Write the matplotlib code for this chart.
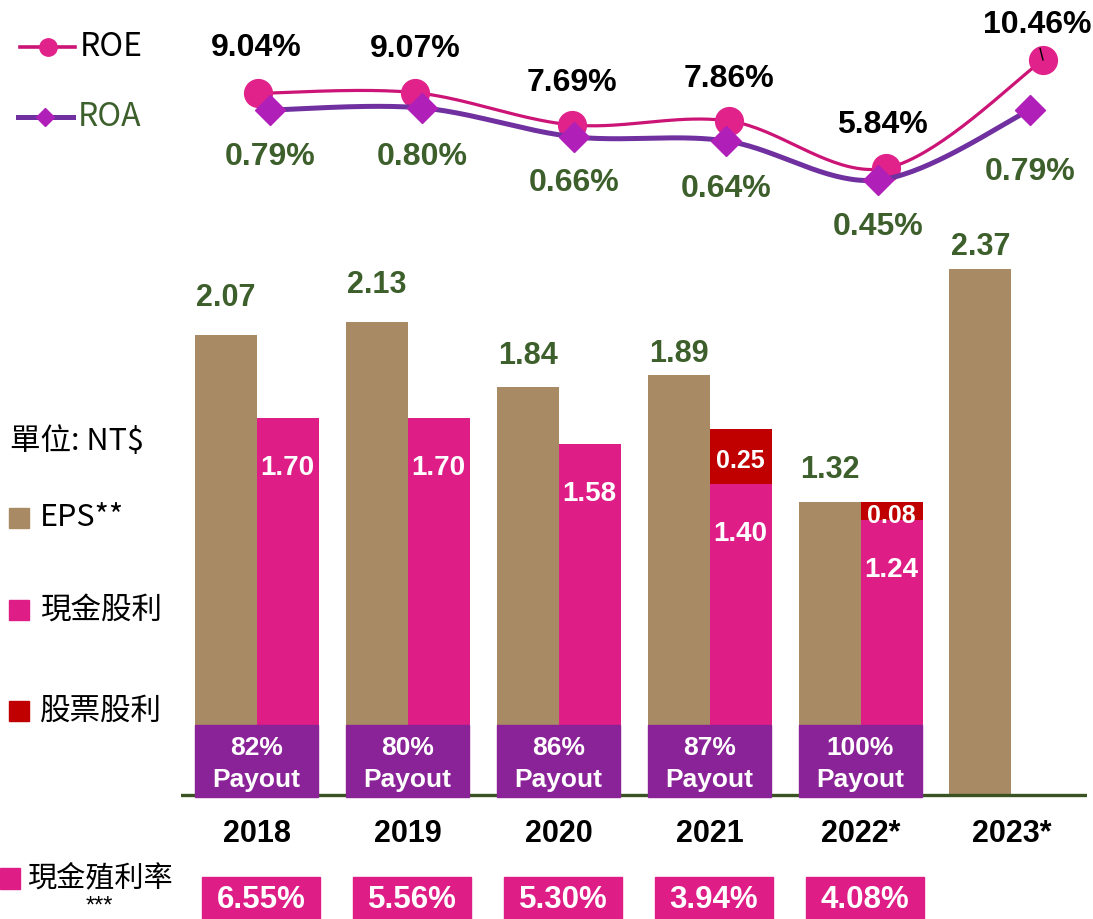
import numpy as np
import matplotlib.pyplot as plt
from matplotlib.patches import Rectangle

# %% data
years = ['2018', '2019', '2020', '2021', '2022*', '2023*']
roe = [9.04, 9.07, 7.69, 7.86, 5.84, 10.46]
roa = [0.79, 0.80, 0.66, 0.64, 0.45, 0.79]
eps = [2.07, 2.13, 1.84, 1.89, 1.32, 2.37]
cash_div = [1.70, 1.70, 1.58, 1.40, 1.24, np.nan]
stock_div = [0, 0, 0, 0.25, 0.08, 0]
payout = ['82%', '80%', '86%', '87%', '100%']
cash_yield = ['6.55%', '5.56%', '5.30%', '3.94%', '4.08%']

# colours
C_EPS = '#A88B64'
C_CASH = '#DE1E86'
C_STOCK = '#C00000'
C_PAY = '#8B2398'
C_GREEN = '#3D5F2B'
C_ROE_LINE = '#CC1477'
C_ROE_MK = '#E0228A'
C_ROA_LINE = '#7030A0'
C_ROA_MK = '#B020B8'

NUM = 'Liberation Sans'
CJK = ['Noto Sans CJK TC', 'DejaVu Sans']
plt.rcParams['font.family'] = CJK

W, H = 1093, 919
fig = plt.figure(figsize=(W / 100, H / 100), dpi=100)


def px_axes(x0, y0, x1, y1):
	ax = fig.add_axes([x0 / W, 1 - y1 / H, (x1 - x0) / W, (y1 - y0) / H])
	ax.set_axis_off()
	ax.patch.set_alpha(0)
	return ax


def smooth(y, n=40):
	# catmull-rom through the points, only for drawing
	y = np.asarray(y, float)
	x = np.arange(len(y), dtype=float)
	P = np.column_stack([x, y])
	P = np.vstack([P[0], P, P[-1]])
	out = []
	t = np.linspace(0, 1, n)[:, None]
	for i in range(1, len(P) - 2):
		p0, p1, p2, p3 = P[i - 1], P[i], P[i + 1], P[i + 2]
		seg = 0.5 * ((2 * p1) + (-p0 + p2) * t + (2 * p0 - 5 * p1 + 4 * p2 - p3) * t ** 2
					 + (-p0 + 3 * p1 - 3 * p2 + p3) * t ** 3)
		out.append(seg)
	out = np.vstack(out)
	return out[:, 0], out[:, 1]


# %% bar part
PX_UNIT = 222.0          # pixels per NT$
BASE = 795               # baseline pixel row
ax = px_axes(181, 240, 1087, H)
ax.set_xlim(-0.5, 5.5)
ax.set_ylim(-(H - BASE) / PX_UNIT, (BASE - 240) / PX_UNIT)

x = np.arange(len(years))
w = 62 / 151
ax.bar(x - w / 2, eps, width=w, color=C_EPS, zorder=2)
ax.bar(x + w / 2, cash_div, width=w, color=C_CASH, zorder=2)
cash0 = np.nan_to_num(cash_div)
stock = np.array(stock_div, float)
mask = stock > 0
ax.bar((x + w / 2)[mask], stock[mask], bottom=cash0[mask], width=w, color=C_STOCK, zorder=2)
ax.axhline(0, color='#3B5323', lw=2.4, zorder=3)

eps_dy = [37, 37, 31, 21, 32, 22]
for i, v in enumerate(eps):
	ax.annotate(f'{v:.2f}', (x[i] - w / 2, v), xytext=(0, eps_dy[i]), textcoords='offset pixels',
				ha='center', va='center', fontsize=22, fontweight='bold', color=C_GREEN, family=NUM)
for i, v in enumerate(cash_div):
	if np.isnan(v):
		continue
	ax.annotate(f'{v:.2f}', (x[i] + w / 2, v), xytext=(0, -50), textcoords='offset pixels',
				ha='center', va='center', fontsize=20, fontweight='bold', color='white', family=NUM, zorder=5)
for i in np.where(mask)[0]:
	ax.annotate(f'{stock[i]:.2f}', (x[i] + w / 2, cash0[i] + stock[i] / 2), xytext=(0, -5),
				textcoords='offset pixels', ha='center', va='center',
				fontsize=18, fontweight='bold', color='white', family=NUM, zorder=5)

for i, p in enumerate(payout):
	ax.add_patch(Rectangle((i - 0.41, -2 / PX_UNIT), 0.82, 72 / PX_UNIT, color=C_PAY, zorder=4, clip_on=False))
	ax.text(i, 47 / PX_UNIT, p, ha='center', va='center', fontsize=19, fontweight='bold',
			color='white', family=NUM, zorder=5)
	ax.text(i, 15 / PX_UNIT, 'Payout', ha='center', va='center', fontsize=19, fontweight='bold',
			color='white', family=NUM, zorder=5)

for i, yr in enumerate(years):
	ax.text(i, -39 / PX_UNIT, yr, ha='center', va='center', fontsize=22, fontweight='bold',
			color='black', family=NUM, clip_on=False)

for i, cy in enumerate(cash_yield):
	ax.add_patch(Rectangle((i - 0.36, -0.7), 0.78, 0.7 - 82 / PX_UNIT, color=C_CASH, zorder=4, clip_on=False))
	ax.text(i + 0.03, -105 / PX_UNIT, cy, ha='center', va='center', fontsize=22.5, fontweight='bold',
			color='white', family=NUM, zorder=5)

# %% ROE / ROA lines (slightly different x spacing in the original)
ax_roe = px_axes(0, 0, W, 240)
ax_roe.set_xlim(-258 / 157, (W - 258) / 157)
ax_roe.set_ylim(2.77, 13.03)
sx, sy = smooth(roe)
ax_roe.plot(sx, sy, color=C_ROE_LINE, lw=2.3, zorder=2)
ax_roe.plot(range(len(roe)), roe, 'o', ms=20, color=C_ROE_MK, zorder=3)
roe_dy = [45, 44, 42, 42, 43, 35]
roe_dx = [-2, 0, 0, 0, -4, -6]
for i, v in enumerate(roe):
	ax_roe.annotate(f'{v:.2f}%', (i, v), xytext=(roe_dx[i], roe_dy[i]), textcoords='offset pixels',
					ha='center', va='center', fontsize=23, fontweight='bold', color='black', family=NUM)
ax_roe.annotate('', (5, roe[5]), xytext=(-3, 12), textcoords='offset pixels',
				arrowprops=dict(arrowstyle='-', color='black', lw=1, shrinkA=0, shrinkB=0), zorder=4)

ax_roa = px_axes(0, 0, W, 240)
ax_roa.set_xlim(-270 / 152, (W - 270) / 152)
ax_roa.set_ylim(0.159, 1.324)
sx, sy = smooth(roa)
ax_roa.plot(sx, sy, color=C_ROA_LINE, lw=3.6, zorder=2)
ax_roa.plot(range(len(roa)), roa, 'D', ms=15, color=C_ROA_MK, zorder=3)
roa_dy = [47, 49, 46, 48, 47, 62]
for i, v in enumerate(roa):
	ax_roa.annotate(f'{v:.2f}%', (i, v), xytext=(0, -roa_dy[i]), textcoords='offset pixels',
					ha='center', va='center', fontsize=23, fontweight='bold', color=C_GREEN, family=NUM)

# %% legends / labels in pixel space
lay = px_axes(0, 0, W, H)
lay.set_xlim(0, W)
lay.set_ylim(H, 0)
lay.plot([20, 75], [47, 47], color=C_ROE_LINE, lw=2.6)
lay.plot([48], [47], 'o', ms=12.5, color=C_ROE_MK)
lay.text(80, 47, 'ROE', ha='left', va='center', fontsize=23, color='black')
lay.plot([18, 73], [117, 117], color=C_ROA_LINE, lw=3.6)
lay.plot([45], [117], 'D', ms=9.5, color=C_ROA_MK)
lay.text(78, 117, 'ROA', ha='left', va='center', fontsize=23, color=C_GREEN)

lay.text(10, 441, '單位: NT$', ha='left', va='center', fontsize=22, color='black')
for (y0, col, lab) in [(518, C_EPS, 'EPS**'), (610, C_CASH, '現金股利'), (711, C_STOCK, '股票股利')]:
	lay.add_patch(Rectangle((9, y0 - 10), 20, 20, color=col))
	lay.text(40, y0, lab, ha='left', va='center', fontsize=22, color='black')

lay.add_patch(Rectangle((0, 868), 20, 21, color=C_CASH))
lay.text(27, 878, '現金殖利率', ha='left', va='center', fontsize=21, color='black')
lay.text(99, 918, '***', ha='center', va='bottom', fontsize=17, color='black', family=NUM)

fig.savefig('out.png', dpi=100)
